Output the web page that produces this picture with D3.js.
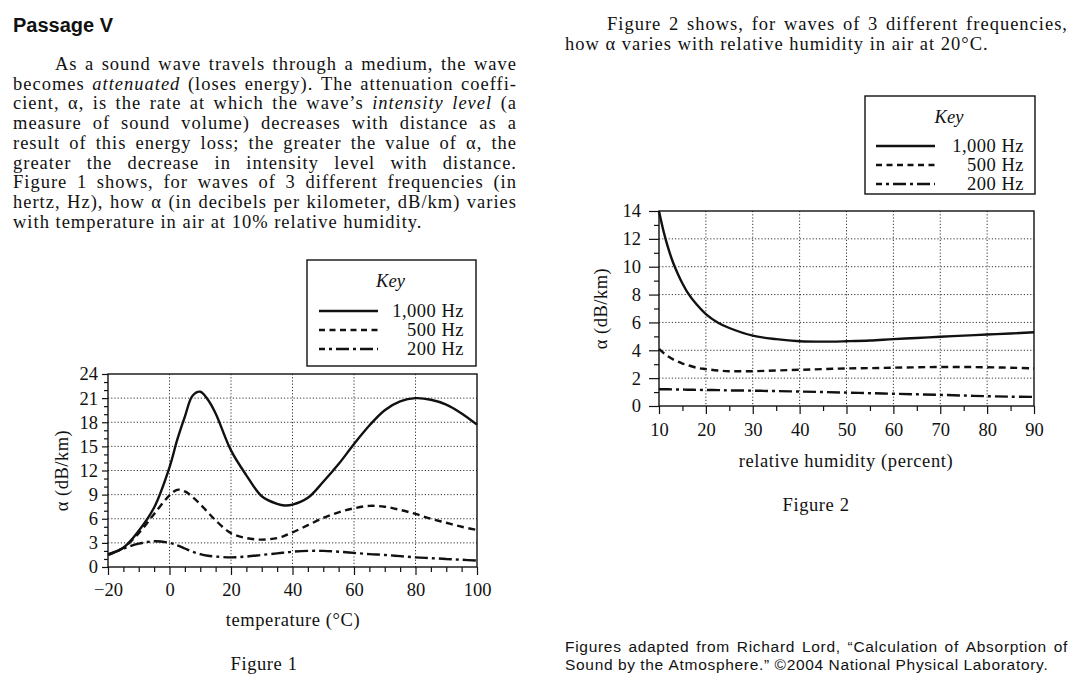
<!DOCTYPE html>
<html><head><meta charset="utf-8">
<script src="https://cdn.jsdelivr.net/npm/d3@7"></script>
<style>
html,body{margin:0;padding:0;background:#fff;}
svg{display:block;}
</style></head><body>
<svg id="c" width="1084" height="688"></svg>
<script>
// ---------------- DATA ----------------
// Figure 1: attenuation vs temperature (10% RH)
const temperature = [-20,-15,-10,-5,0,2.5,5,7.5,10,12.5,15,20,25,30,35,37.5,40,45,50,55,60,65,70,75,80,85,90,95,100];
const f1_1000 = [1.6,2.4,4.5,7.4,12.4,15.8,18.7,21.3,21.8,20.8,19.1,14.5,11.4,8.8,7.85,7.65,7.75,8.6,10.6,12.8,15.3,17.6,19.5,20.6,21.0,20.8,20.2,19.1,17.7];
const f1_500  = [1.5,2.4,4.2,6.6,8.9,9.6,9.4,8.7,7.8,6.8,5.8,4.2,3.6,3.4,3.6,3.9,4.3,5.2,6.1,6.8,7.3,7.6,7.5,7.1,6.6,6.0,5.5,5.0,4.6];
const f1_200  = [1.5,2.3,2.9,3.2,3.0,2.7,2.3,1.9,1.6,1.4,1.3,1.2,1.3,1.5,1.7,1.8,1.9,2.0,2.0,1.9,1.75,1.6,1.5,1.35,1.2,1.1,1.0,0.9,0.8];
const f1_xTicks = [-20,0,20,40,60,80,100];
const f1_yTicks = [0,3,6,9,12,15,18,21,24];

// Figure 2: attenuation vs relative humidity (20 °C)
const humidity = [10,11,12,13,14,15,16,18,20,22.5,25,30,35,40,45,50,55,60,65,70,75,80,85,90];
const f2_1000 = [14.0,12.5,11.3,10.3,9.5,8.8,8.2,7.3,6.6,6.0,5.6,5.05,4.8,4.65,4.62,4.65,4.7,4.8,4.88,4.97,5.05,5.13,5.2,5.3];
const f2_500  = [4.1,3.8,3.55,3.35,3.2,3.05,2.95,2.75,2.65,2.55,2.5,2.5,2.55,2.6,2.65,2.7,2.72,2.75,2.78,2.8,2.8,2.78,2.75,2.7];
const f2_200  = [1.2,1.2,1.2,1.19,1.18,1.18,1.17,1.16,1.15,1.14,1.12,1.1,1.07,1.04,1.0,0.96,0.92,0.88,0.84,0.8,0.75,0.7,0.67,0.65];
const f2_xTicks = [10,20,30,40,50,60,70,80,90];
const f2_yTicks = [0,2,4,6,8,10,12,14];

const seriesNames = ["1,000 Hz","500 Hz","200 Hz"];

const passageLines = [
  "As a sound wave travels through a medium, the wave",
  "becomes _attenuated_ (loses energy). The attenuation coeffi-",
  "cient, α, is the rate at which the wave’s _intensity_ _level_ (a",
  "measure of sound volume) decreases with distance as a",
  "result of this energy loss; the greater the value of α, the",
  "greater the decrease in intensity level with distance.",
  "Figure 1 shows, for waves of 3 different frequencies (in",
  "hertz, Hz), how α (in decibels per kilometer, dB/km) varies",
  "with temperature in air at 10% relative humidity."
];
const fig2Lines = [
  "Figure 2 shows, for waves of 3 different frequencies,",
  "how α varies with relative humidity in air at 20°C."
];
const sourceLines = [
  "Figures adapted from Richard Lord, “Calculation of Absorption of",
  "Sound by the Atmosphere.” ©2004 National Physical Laboratory."
];

// ---------------- STYLE ----------------
const SERIF = '"Liberation Serif","Times New Roman",serif';
const SANS = '"Liberation Sans",Arial,sans-serif';
const dashes = [null, "7,4.5", "13,4,3,4"];
const svg = d3.select("#c");
svg.append("rect").attr("width",1084).attr("height",688).attr("fill","#fff");

// justified text line helper
function drawLine(line, x0, x1, y, justify, font) {
  const words = line.split(" ");
  const nodes = words.map(w => {
    const it = /^_.*_$/.test(w);
    const t = it ? w.slice(1,-1) : w;
    return svg.append("text").attr("y", y)
      .attr("font-family", font.family).attr("font-size", font.size)
      .attr("font-weight", font.weight || "normal")
      .style("letter-spacing", (font.ls||0)+"px")
      .attr("font-style", it ? "italic" : "normal").attr("fill","#111").text(t);
  });
  const widths = nodes.map(n => n.node().getComputedTextLength());
  const total = d3.sum(widths);
  const gap = (justify && words.length > 1) ? (x1 - x0 - total) / (words.length - 1) : font.size*0.25 + (font.ls||0);
  let x = x0;
  nodes.forEach((n,i) => { n.attr("x", x); x += widths[i] + gap; });
}

// Header + passage
svg.append("text").attr("x",13).attr("y",31.5).attr("font-family",SANS).attr("font-weight","bold")
  .attr("font-size",20).attr("fill","#111").text("Passage V");
const bodyFont = {family: SERIF, size: 18.5, ls: 1.0};
passageLines.forEach((l,i) => {
  drawLine(l, i===0 ? 55 : 13, 517, 70 + 19.7*i, i < passageLines.length-1, bodyFont);
});
fig2Lines.forEach((l,i) => {
  drawLine(l, i===0 ? 607 : 565, 1068, 30 + 19.7*i, i === 0, bodyFont);
});
const srcFont = {family: SANS, size: 15.5, ls: 0.7};
sourceLines.forEach((l,i) => {
  drawLine(l, 565, 1068, 652 + 18*i, i === 0, srcFont);
});

// ---------------- CHART HELPER ----------------
function chart(cfg) {
  const x = d3.scaleLinear().domain(cfg.xDomain).range([cfg.left, cfg.right]);
  const y = d3.scaleLinear().domain(cfg.yDomain).range([cfg.bottom, cfg.top]);
  const g = svg.append("g");
  // grid
  const gx = cfg.xTicks.filter(v => v !== cfg.xDomain[0] && v !== cfg.xDomain[1]);
  const gy = cfg.yTicks.filter(v => v !== cfg.yDomain[0] && v !== cfg.yDomain[1]);
  g.selectAll(".gx").data(gx).join("line")
    .attr("x1", d => x(d)).attr("x2", d => x(d)).attr("y1", cfg.top).attr("y2", cfg.bottom)
    .attr("stroke","#333").attr("stroke-width",1).attr("stroke-dasharray","1.2,2");
  g.selectAll(".gy").data(gy).join("line")
    .attr("y1", d => y(d)).attr("y2", d => y(d)).attr("x1", cfg.left).attr("x2", cfg.right)
    .attr("stroke","#333").attr("stroke-width",1).attr("stroke-dasharray","1.2,2");
  // curves
  const line = d3.line().x((d,i) => x(cfg.xs[i])).y(d => y(d)).curve(d3.curveCatmullRom.alpha(0.5));
  cfg.series.forEach((s,k) => {
    g.append("path").attr("d", line(s)).attr("fill","none").attr("stroke","#111")
      .attr("stroke-width", 2.4).attr("stroke-dasharray", dashes[k]);
  });
  // frame
  g.append("rect").attr("x",cfg.left).attr("y",cfg.top).attr("width",cfg.right-cfg.left)
    .attr("height",cfg.bottom-cfg.top).attr("fill","none").attr("stroke","#111").attr("stroke-width",1.4);
  // axes
  const fs = 18.5;
  const ax = g.append("g").attr("transform",`translate(0,${cfg.bottom})`)
    .call(d3.axisBottom(x).tickValues(cfg.xTicks).tickSize(cfg.majorX).tickFormat(d3.format("d")));
  const axm = g.append("g").attr("transform",`translate(0,${cfg.bottom})`)
    .call(d3.axisBottom(x).tickValues(cfg.xMinor).tickSize(cfg.minorX).tickFormat(""));
  const ay = g.append("g").attr("transform",`translate(${cfg.left},0)`)
    .call(d3.axisLeft(y).tickValues(cfg.yTicks).tickSize(cfg.majorY).tickPadding(cfg.yPad).tickFormat(d3.format("d")));
  const aym = g.append("g").attr("transform",`translate(${cfg.left},0)`)
    .call(d3.axisLeft(y).tickValues(cfg.yMinor).tickSize(cfg.minorY).tickFormat(""));
  [ax,axm,ay,aym].forEach(a => {
    a.select(".domain").remove();
    a.selectAll(".tick line").attr("stroke","#111").attr("stroke-width",1.2);
    a.selectAll("text").attr("font-family",SERIF).attr("font-size",fs).attr("fill","#111");
  });
  ax.selectAll("text").attr("y", cfg.xLabelDy).attr("dy", 0);
  // axis titles
  svg.append("text").attr("transform",`translate(${cfg.yTitleX},${(cfg.top+cfg.bottom)/2}) rotate(-90)`)
    .attr("text-anchor","middle").attr("dy","0.35em").attr("font-family",SERIF).attr("font-size",fs)
    .style("letter-spacing","0.5px").attr("fill","#111").text("α (dB/km)");
  svg.append("text").attr("x",cfg.xTitleX).attr("y",cfg.xTitleY).attr("text-anchor","middle")
    .attr("font-family",SERIF).attr("font-size",fs).style("letter-spacing","0.6px").attr("fill","#111").text(cfg.xTitle);
  svg.append("text").attr("x",cfg.figX).attr("y",cfg.figY).attr("text-anchor","middle")
    .attr("font-family",SERIF).attr("font-size",fs).style("letter-spacing","0.6px").attr("fill","#111").text(cfg.fig);
  // key
  const k = cfg.key;
  svg.append("rect").attr("x",k.x0).attr("y",k.y0).attr("width",k.x1-k.x0).attr("height",k.y1-k.y0)
    .attr("fill","#fff").attr("stroke","#111").attr("stroke-width",1.4);
  svg.append("text").attr("x",(k.x0+k.x1)/2 - 1).attr("y",k.keyY).attr("text-anchor","middle")
    .attr("font-family",SERIF).attr("font-style","italic").attr("font-size",fs).attr("fill","#111").text("Key");
  seriesNames.forEach((n,i) => {
    const by = k.rowY[i];
    svg.append("line").attr("x1",k.lx0).attr("x2",k.lx1).attr("y1",by-6).attr("y2",by-6)
      .attr("stroke","#111").attr("stroke-width",2.4).attr("stroke-dasharray", i===1 ? "6,4.5" : dashes[i])
      .attr("stroke-dashoffset", i===2 ? 7 : 0);
    svg.append("text").attr("x",k.tx).attr("y",by).attr("text-anchor","end")
      .attr("font-family",SERIF).attr("font-size",fs).style("letter-spacing","0.5px").attr("fill","#111").text(n);
  });
}

chart({
  xDomain:[-20,100], yDomain:[0,24], left:108, right:477, top:374, bottom:567,
  xs: temperature, series:[f1_1000,f1_500,f1_200],
  xTicks: f1_xTicks, yTicks: f1_yTicks,
  xMinor: d3.range(-20,101,5).filter(v => v % 20 !== 0),
  yMinor: d3.range(0,25,1).filter(v => v % 3 !== 0),
  majorX:8, minorX:5, majorY:6, minorY:4, yPad:4, xLabelDy:29,
  yTitleX:62, xTitleX:293, xTitleY:626, xTitle:"temperature (°C)",
  fig:"Figure 1", figX:264, figY:670,
  key:{x0:307,x1:476,y0:260,y1:366,keyY:287,rowY:[317,336,355],lx0:319,lx1:378,tx:464}
});
chart({
  xDomain:[10,90], yDomain:[0,14], left:659, right:1034, top:211, bottom:406,
  xs: humidity, series:[f2_1000,f2_500,f2_200],
  xTicks: f2_xTicks, yTicks: f2_yTicks,
  xMinor: d3.range(15,90,10),
  yMinor: d3.range(1,14,2),
  majorX:8, minorX:5, majorY:10, minorY:5, yPad:8, xLabelDy:30,
  yTitleX:601, xTitleX:846, xTitleY:467, xTitle:"relative humidity (percent)",
  fig:"Figure 2", figX:816, figY:511,
  key:{x0:865,x1:1035,y0:96,y1:194,keyY:123,rowY:[152,171,190],lx0:876,lx1:935,tx:1024}
});
</script>
</body></html>
